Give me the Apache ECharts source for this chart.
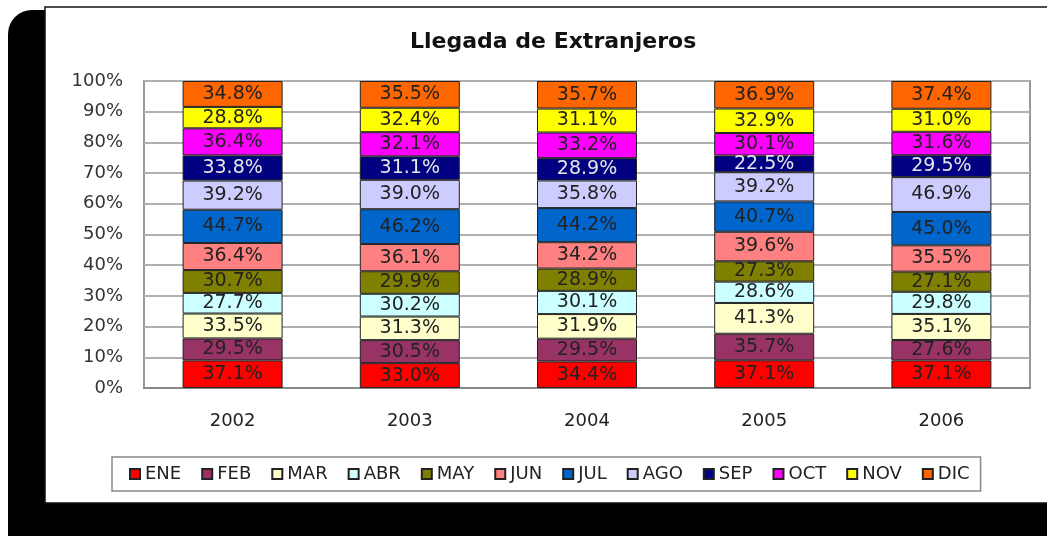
<!DOCTYPE html>
<html>
<head>
<meta charset="utf-8">
<script src="https://cdn.jsdelivr.net/npm/echarts@6/dist/echarts.min.js"></script>
<style>
  html, body { margin: 0; padding: 0; background: #fff; }
  #chart { width: 1047px; height: 536px; }
</style>
</head>
<body>
<div id="chart"></div>
<script>
// años (categorías) y meses (series)
const years = ["2002", "2003", "2004", "2005", "2006"];
const months = ["ENE", "FEB", "MAR", "ABR", "MAY", "JUN", "JUL", "AGO", "SEP", "OCT", "NOV", "DIC"];

// valores que muestran las etiquetas, por mes
const ene = [37.1, 33.0, 34.4, 37.1, 37.1];
const feb = [29.5, 30.5, 29.5, 35.7, 27.6];
const mar = [33.5, 31.3, 31.9, 41.3, 35.1];
const abr = [27.7, 30.2, 30.1, 28.6, 29.8];
const may = [30.7, 29.9, 28.9, 27.3, 27.1];
const jun = [36.4, 36.1, 34.2, 39.6, 35.5];
const jul = [44.7, 46.2, 44.2, 40.7, 45.0];
const ago = [39.2, 39.0, 35.8, 39.2, 46.9];
const sep = [33.8, 31.1, 28.9, 22.5, 29.5];
const oct = [36.4, 32.1, 33.2, 30.1, 31.6];
const nov = [28.8, 32.4, 31.1, 32.9, 31.0];
const dic = [34.8, 35.5, 35.7, 36.9, 37.4];

const yTicks = { min: 0, max: 100, interval: 10 };

const monthValues = [ene, feb, mar, abr, may, jun, jul, ago, sep, oct, nov, dic];
const colors = ["#FF0000", "#993366", "#FFFFCC", "#CCFFFF", "#808000", "#FF8080",
  "#0066CC", "#CCCCFF", "#000080", "#FF00FF", "#FFFF00", "#FF6600"];

// totales por año para apilar al 100%
const totals = years.map((y, i) => monthValues.reduce((s, arr) => s + arr[i], 0));

const FONT = "DejaVu Sans";

const chart = echarts.init(document.getElementById("chart"));

const series = months.map((m, k) => ({
  name: m,
  type: "bar",
  stack: "total",
  barWidth: 100,
  data: monthValues[k].map((v, i) => (v / totals[i]) * 100),
  itemStyle: { color: colors[k], borderColor: "#222", borderWidth: 1 },
  label: {
    show: true,
    position: "inside",
    fontFamily: FONT,
    fontSize: 19,
    color: m === "SEP" ? "#e6e6e6" : "#222",
    formatter: (p) => monthValues[k][p.dataIndex].toFixed(1) + "%",
  },
  emphasis: { disabled: true },
}));

chart.setOption({
  animation: false,
  backgroundColor: "#fff",
  graphic: [
    {
      type: "rect",
      z: -10,
      shape: { x: 8, y: 10, width: 1100, height: 600, r: 24 },
      style: { fill: "#000" },
    },
    {
      type: "rect",
      z: -9,
      shape: { x: 45, y: 7, width: 1010, height: 496 },
      style: { fill: "#fff", stroke: "#111", lineWidth: 1.5 },
    },
  ],
  title: {
    text: "Llegada de Extranjeros",
    left: 405,
    top: 26,
    textStyle: { fontFamily: FONT, fontWeight: "bold", fontSize: 22, color: "#111" },
  },
  legend: {
    data: months,
    left: 112,
    top: 457,
    orient: "horizontal",
    padding: [8, 11, 8, 17],
    itemGap: 20,
    itemWidth: 10,
    itemHeight: 10,
    icon: "rect",
    borderColor: "#888",
    borderWidth: 1.5,
    textStyle: { fontFamily: FONT, fontSize: 18, color: "#222" },
  },
  grid: {
    left: 144,
    right: 17,
    top: 81,
    bottom: 148,
    show: true,
    backgroundColor: "#fff",
    borderColor: "#999",
    borderWidth: 2,
  },
  xAxis: {
    type: "category",
    data: years,
    axisLine: { lineStyle: { color: "#888", width: 2 } },
    axisTick: { show: false },
    axisLabel: { fontFamily: FONT, fontSize: 18, color: "#222", margin: 24 },
  },
  yAxis: {
    type: "value",
    min: yTicks.min,
    max: yTicks.max,
    interval: yTicks.interval,
    axisLine: { show: false },
    axisTick: { show: false },
    splitLine: { lineStyle: { color: "#b0b0b0", width: 2 } },
    axisLabel: { fontFamily: FONT, fontSize: 18, color: "#333", margin: 21, formatter: "{value}%" },
  },
  series: series,
});
</script>
</body>
</html>
